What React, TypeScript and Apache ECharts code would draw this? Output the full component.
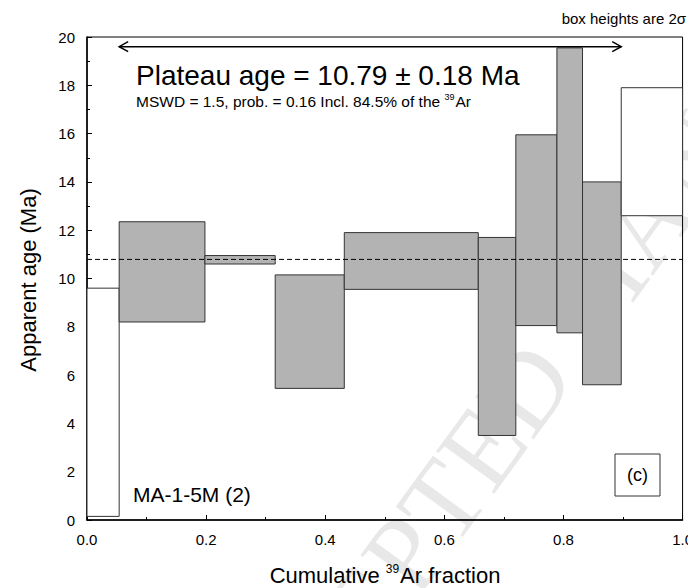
import React, { useEffect, useRef } from "react";
import * as echarts from "echarts";

const stepStart = [0, 0.054, 0.198, 0.316, 0.432, 0.657, 0.72, 0.789, 0.832, 0.897];
const stepEnd = [0.054, 0.198, 0.316, 0.432, 0.657, 0.72, 0.789, 0.832, 0.897, 1.0];
const ageLow = [0.15, 8.2, 10.6, 5.45, 9.55, 3.5, 8.05, 7.75, 5.6, 12.6];
const ageHigh = [9.6, 12.35, 10.95, 10.15, 11.9, 11.7, 15.95, 19.55, 14.0, 17.9];
const inPlateau = [0, 1, 1, 1, 1, 1, 1, 1, 1, 0];
const plateauAge = 10.79;
const arrowY = 19.6;
const yTicks = [0, 2, 4, 6, 8, 10, 12, 14, 16, 18, 20];

const FONT = "Liberation Sans, Arial, sans-serif";

export default function App() {
  const ref = useRef<HTMLDivElement>(null);
  useEffect(() => {
    const chart = echarts.init(ref.current!, null, { renderer: "svg" });
    const data = stepStart.map((s, i) => [s, stepEnd[i], ageLow[i], ageHigh[i], inPlateau[i]]);
    const axisCommon = {
      axisLine: { lineStyle: { color: "#000", width: 1.5 } },
      axisTick: { inside: true, length: 5, lineStyle: { color: "#000" } },
      minorTick: { show: true, splitNumber: 2, length: 3, lineStyle: { color: "#000" } },
      splitLine: { show: false },
      axisLabel: { color: "#000", fontSize: 15, fontFamily: FONT },
    };
    chart.setOption({
      animation: false,
      textStyle: { fontFamily: FONT },
      grid: { left: 79, right: 2, top: 29, bottom: 68, show: true, borderColor: "#000", borderWidth: 1 },
      xAxis: {
        type: "value", min: 0, max: 1, interval: 0.2,
        ...axisCommon,
        axisLabel: { ...axisCommon.axisLabel, margin: 12, formatter: (v: number) => v.toFixed(1) },
      },
      yAxis: {
        type: "value", min: 0, max: 20, interval: 2,
        ...axisCommon,
        axisLabel: { ...axisCommon.axisLabel, margin: 12, formatter: (v: number) => (yTicks.includes(v) ? String(v) : "") },
      },
      series: [
        {
          type: "custom",
          data,
          encode: { x: [0, 1], y: [2, 3] },
          renderItem: (params: any, api: any) => {
            const p0 = api.coord([api.value(0), api.value(3)]);
            const p1 = api.coord([api.value(1), api.value(2)]);
            const gray = api.value(4) === 1;
            return {
              type: "rect",
              shape: { x: p0[0], y: p0[1], width: p1[0] - p0[0], height: p1[1] - p0[1] },
              style: { fill: gray ? "#b3b3b3" : "#fff", stroke: "#333", lineWidth: 1 },
            };
          },
          z: 2,
        },
        {
          type: "line",
          data: [[0, plateauAge], [1, plateauAge]],
          symbol: "none",
          lineStyle: { color: "#000", width: 1, type: [5, 3] },
          z: 5,
        },
        {
          type: "custom",
          data: [[stepStart[1], stepEnd[8], arrowY]],
          encode: { x: [0, 1], y: 2 },
          renderItem: (params: any, api: any) => {
            const a = api.coord([api.value(0), api.value(2)]);
            const b = api.coord([api.value(1), api.value(2)]);
            const st = { stroke: "#000", lineWidth: 1.5, fill: "none" };
            return {
              type: "group",
              children: [
                { type: "line", shape: { x1: a[0], y1: a[1], x2: b[0], y2: b[1] }, style: st },
                { type: "polyline", shape: { points: [[a[0] + 9, a[1] - 5], [a[0], a[1]], [a[0] + 9, a[1] + 5]] }, style: st },
                { type: "polyline", shape: { points: [[b[0] - 9, b[1] - 5], [b[0], b[1]], [b[0] - 9, b[1] + 5]] }, style: st },
              ],
            };
          },
          z: 5,
        },
      ],
      graphic: [
        {
          type: "text", x: 590, y: 280, rotation: Math.PI * 0.3, silent: true,
          style: { text: "ACCEPTED MANUSCRIPT", fontSize: 110, fontFamily: "Liberation Serif, serif", fill: "rgba(0,0,0,0.09)", align: "center", verticalAlign: "middle" },
          z: 0,
        },
        { type: "text", right: 10, top: 3, style: { text: "box heights are 2σ", fontSize: 15, fontFamily: FONT, fill: "#000" } },
        { type: "text", left: 128, top: 53, style: { text: "Plateau age = 10.79 ± 0.18 Ma", fontSize: 28, fontFamily: FONT, fill: "#000" } },
        {
          type: "text", left: 128, top: 84,
          style: {
            text: "{a|MSWD = 1.5, prob. = 0.16 Incl. 84.5% of the }{s|39}{a|Ar}",
            fontFamily: FONT, fill: "#000",
            rich: {
              a: { fontSize: 15.5, fontFamily: FONT },
              s: { fontSize: 9, fontFamily: FONT, padding: [0, 1, 9, 0] },
            },
          },
        },
        { type: "text", left: 125, top: 476, style: { text: "MA-1-5M (2)", fontSize: 21, fontFamily: FONT, fill: "#000" } },
        { type: "rect", shape: { x: 607, y: 446, width: 45, height: 42 }, style: { fill: "#fff", stroke: "#333", lineWidth: 1 }, z: 10 },
        { type: "text", x: 629.5, y: 467, style: { text: "(c)", fontSize: 18, fontFamily: FONT, fill: "#000", align: "center", verticalAlign: "middle" }, z: 11 },
        {
          type: "text", x: 20, y: 272, rotation: Math.PI / 2,
          style: { text: "Apparent age (Ma)", fontSize: 22, fontFamily: FONT, fill: "#000", align: "center", verticalAlign: "middle" },
        },
        {
          type: "text", x: 377, y: 567,
          style: {
            text: "{a|Cumulative }{s|39}{a|Ar fraction}",
            align: "center", verticalAlign: "middle", fill: "#000",
            rich: {
              a: { fontSize: 22, fontFamily: FONT },
              s: { fontSize: 12, fontFamily: FONT, padding: [0, 1, 12, 0] },
            },
          },
        },
      ],
    });
    return () => chart.dispose();
  }, []);
  return <div ref={ref} style={{ width: 688, height: 580 }} />;
}
